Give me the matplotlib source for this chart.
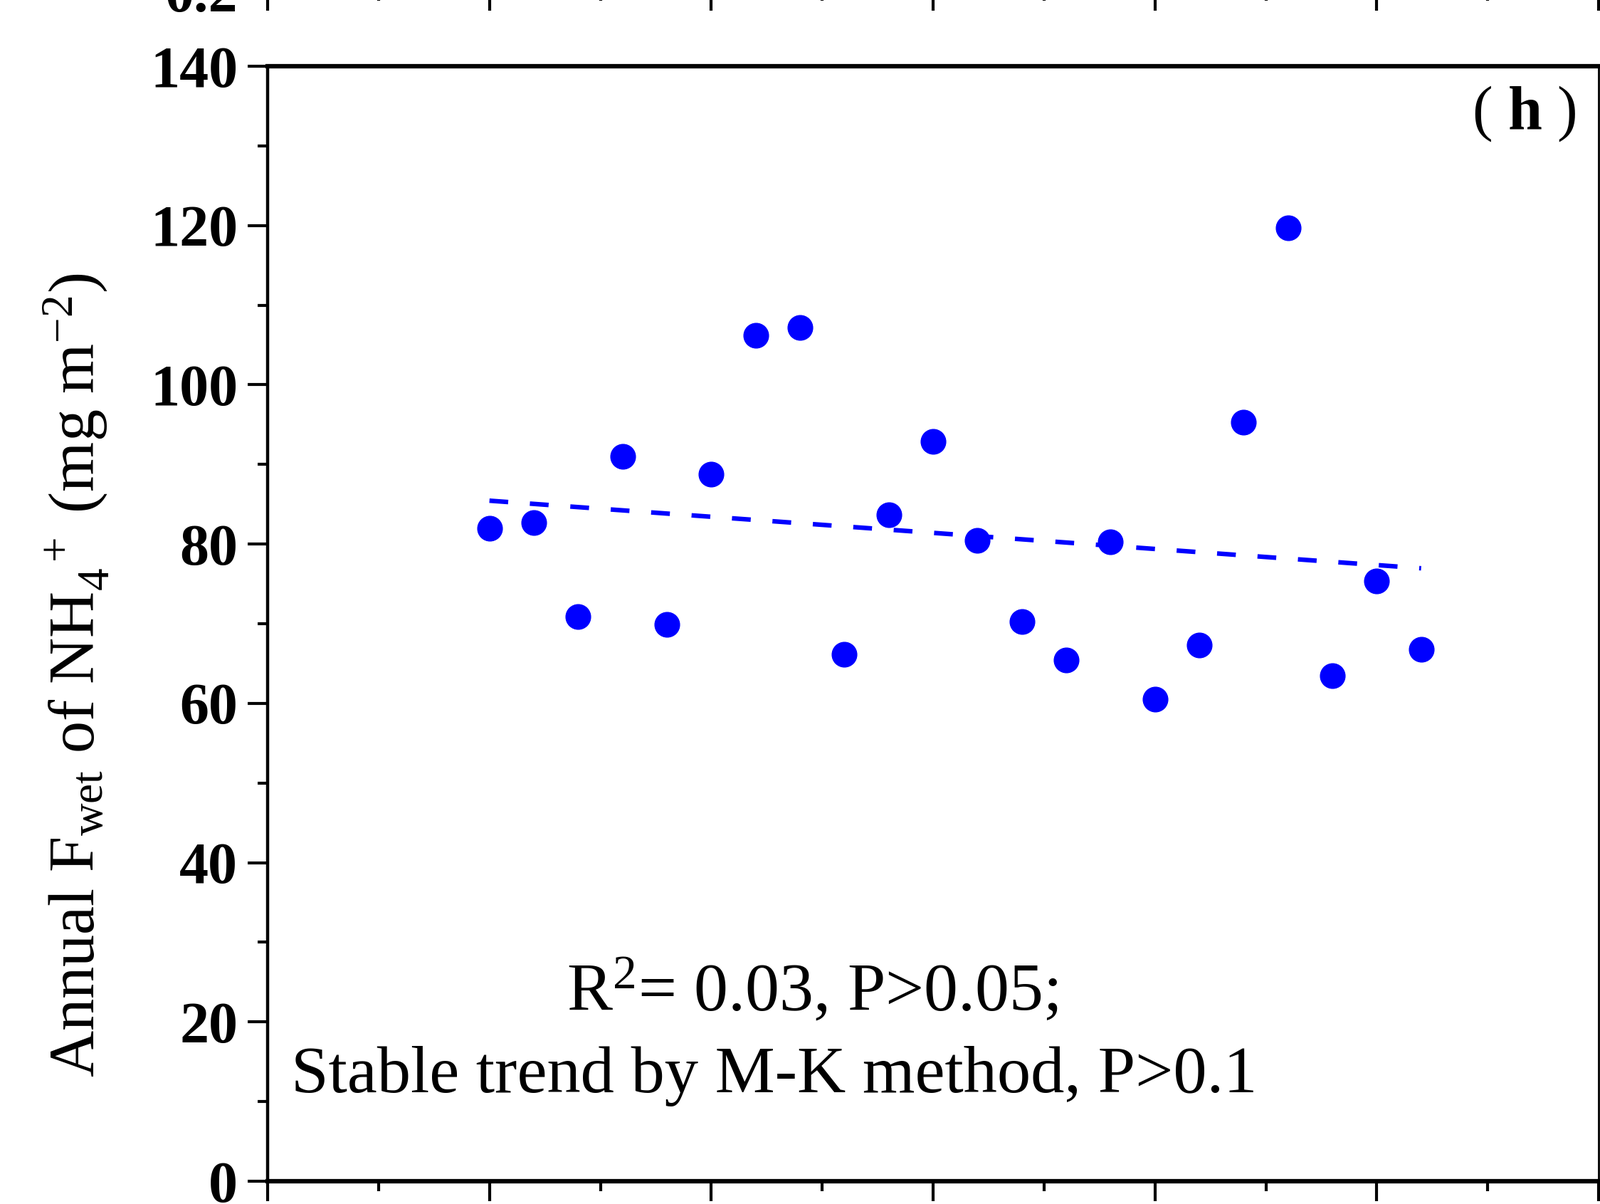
import matplotlib
matplotlib.use('Agg')
import matplotlib.pyplot as plt
import numpy as np

plt.rcParams['font.family'] = ['Liberation Serif', 'Noto Sans CJK SC', 'DejaVu Sans']
plt.rcParams['mathtext.fontset'] = 'custom'
plt.rcParams['mathtext.rm'] = 'Liberation Serif'
plt.rcParams['mathtext.it'] = 'Liberation Serif:italic'
plt.rcParams['mathtext.bf'] = 'Liberation Serif:bold'
plt.rcParams['lines.scale_dashes'] = False

# data: annual wet deposition flux of NH4+
years = np.arange(2000, 2022)
flux = [82.0, 82.7, 70.9, 91.0, 69.9, 88.8, 106.2, 107.2, 66.2, 83.7, 92.9,
        80.5, 70.3, 65.4, 80.3, 60.5, 67.3, 95.3, 119.7, 63.5, 75.4, 66.8]
yticks = [0, 20, 40, 60, 80, 100, 120, 140]
xmajor = [1995, 2000, 2005, 2010, 2015, 2020, 2025]

W, H = 2248, 1691
fig = plt.figure(figsize=(W / 100, H / 100), dpi=100)

l, r, b, t = 376, 2246, 1659, 93
ax = fig.add_axes([l / W, (H - b) / H, (r - l) / W, (b - t) / H])

ax.plot(years, flux, 'o', color='#0000FF', markersize=25, zorder=3)

# linear trend
k, c = np.polyfit(years, flux, 1)
ax.plot(years, k * years + c, color='#0000FF', lw=4.6, dashes=(19, 22))

ax.set_xlim(1995, 2025)
ax.set_ylim(0, 140)
ax.set_xticks(xmajor)
ax.set_xticks(np.arange(1995, 2025.1, 2.5), minor=True)
ax.set_xticklabels([])
ax.set_yticks(yticks)
ax.set_yticks(np.arange(10, 140, 20), minor=True)
ax.set_yticklabels([str(v) for v in yticks], fontsize=59, fontweight='bold')

ax.tick_params(which='major', direction='out', length=20, width=3, pad=10)
ax.tick_params(which='minor', direction='out', length=10, width=3)
ax.tick_params(axis='x', which='both', top=False)
ax.tick_params(axis='y', which='both', right=False)

ax.spines['left'].set_linewidth(3.2)
ax.spines['bottom'].set_linewidth(4.5)
ax.spines['top'].set_linewidth(4.5)
ax.spines['right'].set_linewidth(2)

fig.text(107 / W, 1 - 948 / H,
         'Annual F$_{\\mathregular{wet}}$ of NH$_4^{\\ \\ +}$ (mg m$^{\\mathregular{-2}}$)',
         rotation=90, ha='center', va='center', fontsize=65)

ax.text(0.983, 0.957, '( $\\mathbf{h}$ )', transform=ax.transAxes, ha='right', va='center',
        fontsize=62)
ax.text(0.409, 0.153, 'R$^2$= 0.03, P>0.05;', transform=ax.transAxes,
        ha='center', va='baseline', fontsize=69)
ax.text(0.0176, 0.0798, 'Stable trend by M-K method, P>0.1', transform=ax.transAxes,
        ha='left', va='baseline', fontsize=68)

# upper neighbouring panel, mostly outside the figure
ax2 = fig.add_axes([l / W, 1 + 13 / H, (r - l) / W, 0.5])
ax2.set_xlim(1995, 2025)
ax2.set_ylim(0.2, 1.0)
ax2.set_xticks(xmajor)
ax2.set_xticks(np.arange(1995, 2025.1, 2.5), minor=True)
ax2.set_xticklabels([])
ax2.set_yticks([0.2])
ax2.set_yticklabels(['0.2'], fontsize=59, fontweight='bold')
ax2.tick_params(which='major', direction='out', length=20, width=3, pad=10)
ax2.tick_params(which='minor', direction='out', length=10, width=3)
for s in ax2.spines.values():
    s.set_linewidth(4.5)

fig.savefig('out.png', dpi=100)
